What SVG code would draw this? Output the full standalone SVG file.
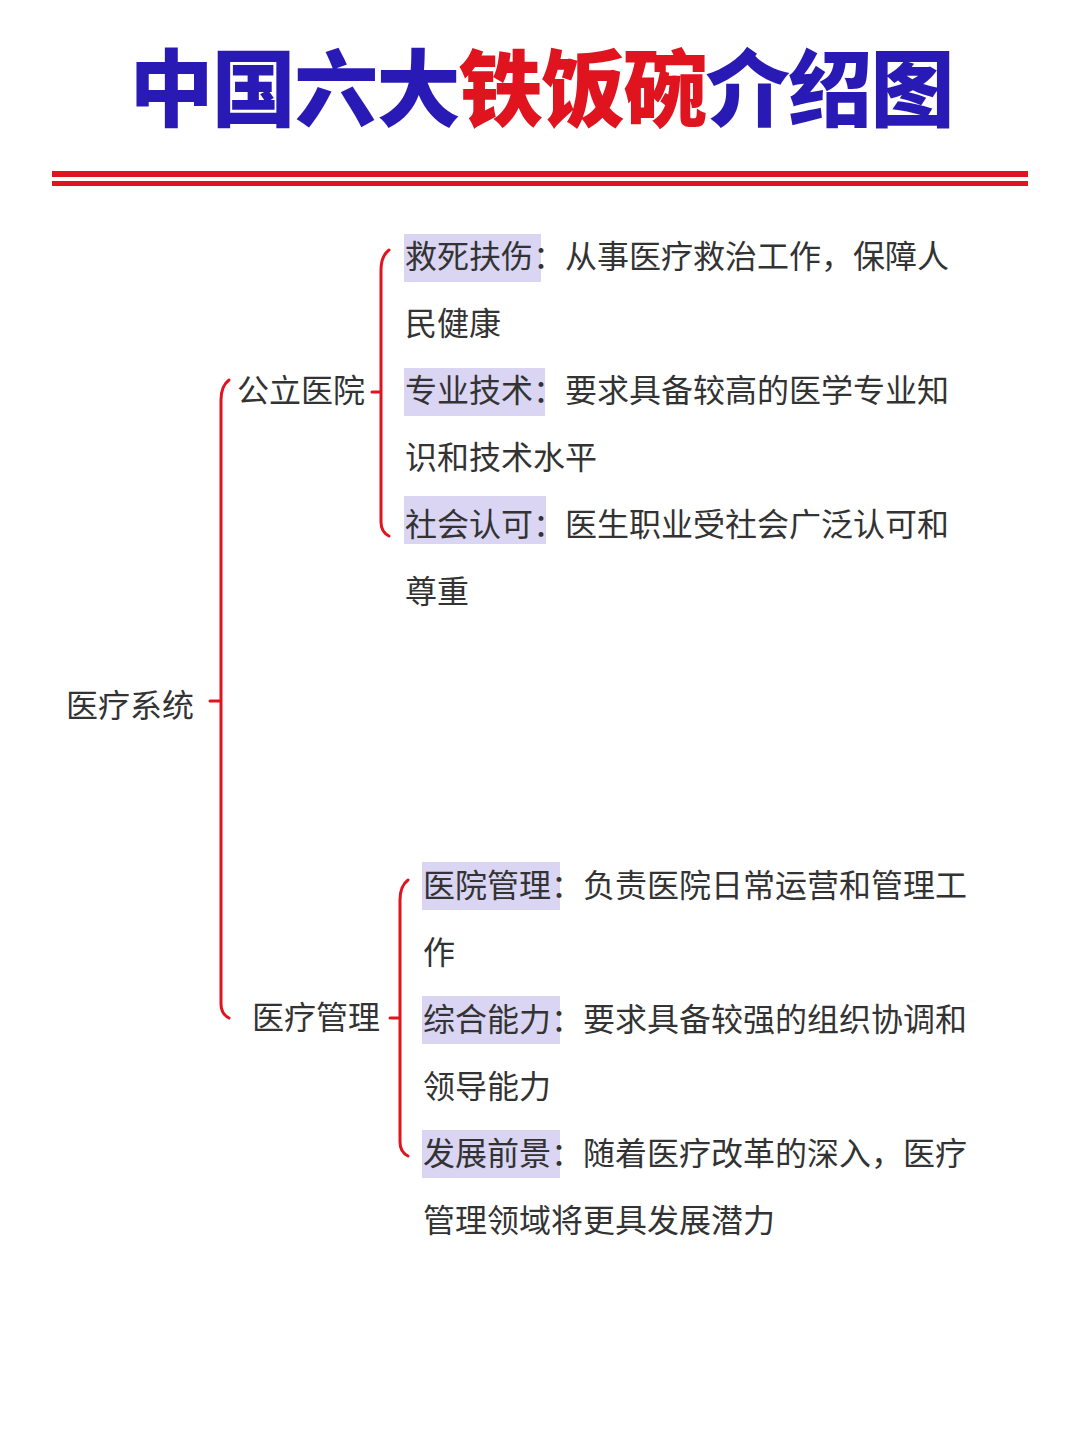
<svg xmlns="http://www.w3.org/2000/svg" width="1080" height="1443" viewBox="0 0 1080 1443">
<style>
.t{font-family:"Noto Sans CJK SC","Noto Sans",sans-serif;font-size:32px;fill:#333}
.h{fill:#d9d5f2}
.b{fill:none;stroke:#e0141e;stroke-width:3;stroke-linecap:round}
.title{font-family:"Noto Sans CJK SC",sans-serif;font-size:84px;font-weight:900}
</style>
<rect width="1080" height="1443" fill="#fff"/>
<g id="title">
<text class="title" x="542" y="120" text-anchor="middle" textLength="825"><tspan fill="#2a1ab5">中国六大</tspan><tspan fill="#e0141e">铁饭碗</tspan><tspan fill="#2a1ab5">介绍图</tspan></text>
<rect x="52" y="171" width="976" height="6" fill="#e0141e"/>
<rect x="52" y="181" width="976" height="5" fill="#e0141e"/>
</g>
<g id="connectors">
<path class="b" d="M229,380 Q221,386 221,400 L221,1004 Q221,1014 229,1018 M221,701 L210,701"/>
<path class="b" d="M389,250 Q381,256 381,270 L381,522 Q381,532 389,536 M381,392 L372,392"/>
<path class="b" d="M408,880 Q400,886 400,900 L400,1142 Q400,1152 408,1156 M400,1018 L390,1018"/>
</g>
<g id="root"><text class="t" x="66" y="717">医疗系统</text></g>
<g id="n1"><text class="t" x="237" y="402">公立医院</text></g>
<g id="n2"><text class="t" x="252" y="1029">医疗管理</text></g>
<g id="n1a">
<rect class="h" x="404" y="234" width="137" height="48"/>
<text class="t" x="405" y="268">救死扶伤：从事医疗救治工作，保障人</text>
<text class="t" x="405" y="335">民健康</text>
</g>
<g id="n1b">
<rect class="h" x="404" y="368" width="141" height="48"/>
<text class="t" x="405" y="402">专业技术：要求具备较高的医学专业知</text>
<text class="t" x="405" y="469">识和技术水平</text>
</g>
<g id="n1c">
<rect class="h" x="404" y="496" width="142" height="48"/>
<text class="t" x="405" y="536">社会认可：医生职业受社会广泛认可和</text>
<text class="t" x="405" y="603">尊重</text>
</g>
<g id="n2a">
<rect class="h" x="422" y="862" width="138" height="48"/>
<text class="t" x="423" y="897">医院管理：负责医院日常运营和管理工</text>
<text class="t" x="423" y="964">作</text>
</g>
<g id="n2b">
<rect class="h" x="422" y="996" width="138" height="48"/>
<text class="t" x="423" y="1031">综合能力：要求具备较强的组织协调和</text>
<text class="t" x="423" y="1098">领导能力</text>
</g>
<g id="n2c">
<rect class="h" x="422" y="1130" width="138" height="48"/>
<text class="t" x="423" y="1165">发展前景：随着医疗改革的深入，医疗</text>
<text class="t" x="423" y="1232">管理领域将更具发展潜力</text>
</g>
</svg>
